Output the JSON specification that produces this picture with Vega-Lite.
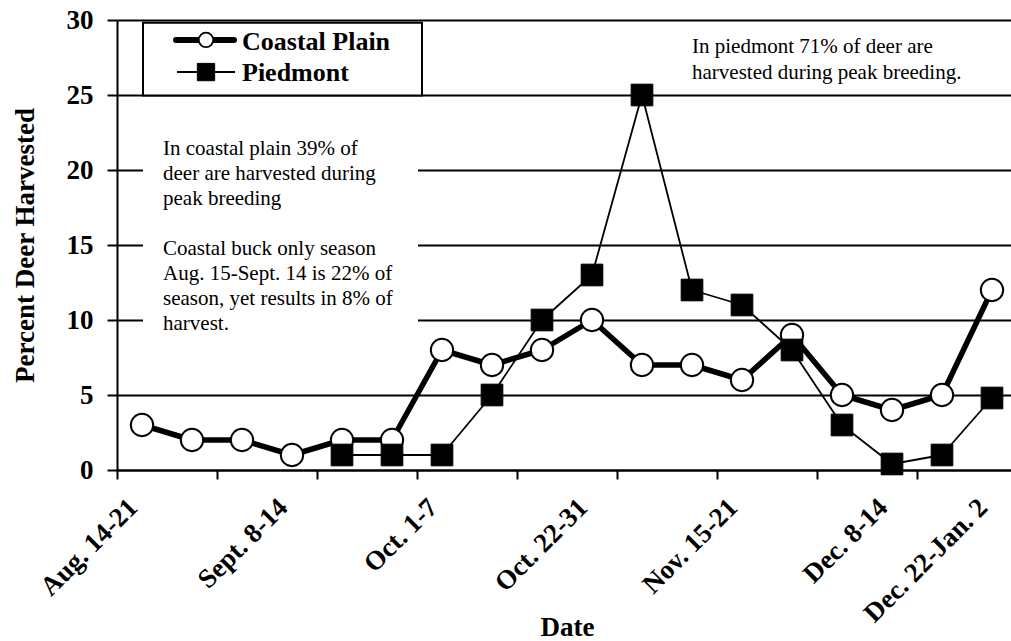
{
  "$schema": "https://vega.github.io/schema/vega-lite/v6.json",
  "width": 894,
  "height": 450,
  "autosize": {"type": "none"},
  "padding": {"left": 117, "top": 20, "right": 0, "bottom": 171},
  "background": "white",
  "config": {
    "view": {"stroke": null},
    "font": "Liberation Serif",
    "text": {"font": "Liberation Serif", "color": "black"}
  },
  "resolve": {"scale": {"x": "independent"}},
  "layer": [
    {
      "data": {
        "values": [
          {"week": "Aug. 14-21", "series": "Coastal Plain", "pct": 3},
          {"week": "Aug. 22-31", "series": "Coastal Plain", "pct": 2},
          {"week": "Sept. 1-7", "series": "Coastal Plain", "pct": 2},
          {"week": "Sept. 8-14", "series": "Coastal Plain", "pct": 1},
          {"week": "Sept. 15-21", "series": "Coastal Plain", "pct": 2},
          {"week": "Sept. 22-30", "series": "Coastal Plain", "pct": 2},
          {"week": "Oct. 1-7", "series": "Coastal Plain", "pct": 8},
          {"week": "Oct. 8-14", "series": "Coastal Plain", "pct": 7},
          {"week": "Oct. 15-21", "series": "Coastal Plain", "pct": 8},
          {"week": "Oct. 22-31", "series": "Coastal Plain", "pct": 10},
          {"week": "Nov. 1-7", "series": "Coastal Plain", "pct": 7},
          {"week": "Nov. 8-14", "series": "Coastal Plain", "pct": 7},
          {"week": "Nov. 15-21", "series": "Coastal Plain", "pct": 6},
          {"week": "Nov. 22-30", "series": "Coastal Plain", "pct": 9},
          {"week": "Dec. 1-7", "series": "Coastal Plain", "pct": 5},
          {"week": "Dec. 8-14", "series": "Coastal Plain", "pct": 4},
          {"week": "Dec. 15-21", "series": "Coastal Plain", "pct": 5},
          {"week": "Dec. 22-Jan. 2", "series": "Coastal Plain", "pct": 12},
          {"week": "Sept. 15-21", "series": "Piedmont", "pct": 1},
          {"week": "Sept. 22-30", "series": "Piedmont", "pct": 1},
          {"week": "Oct. 1-7", "series": "Piedmont", "pct": 1},
          {"week": "Oct. 8-14", "series": "Piedmont", "pct": 5},
          {"week": "Oct. 15-21", "series": "Piedmont", "pct": 10},
          {"week": "Oct. 22-31", "series": "Piedmont", "pct": 13},
          {"week": "Nov. 1-7", "series": "Piedmont", "pct": 25},
          {"week": "Nov. 8-14", "series": "Piedmont", "pct": 12},
          {"week": "Nov. 15-21", "series": "Piedmont", "pct": 11},
          {"week": "Nov. 22-30", "series": "Piedmont", "pct": 8},
          {"week": "Dec. 1-7", "series": "Piedmont", "pct": 3},
          {"week": "Dec. 8-14", "series": "Piedmont", "pct": 0.4},
          {"week": "Dec. 15-21", "series": "Piedmont", "pct": 1},
          {"week": "Dec. 22-Jan. 2", "series": "Piedmont", "pct": 4.8}
        ]
      },
      "encoding": {
        "x": {
          "field": "week",
          "type": "nominal",
          "sort": null,
          "scale": {
            "type": "band",
            "domain": ["Aug. 14-21", "Aug. 22-31", "Sept. 1-7", "Sept. 8-14", "Sept. 15-21", "Sept. 22-30", "Oct. 1-7", "Oct. 8-14", "Oct. 15-21", "Oct. 22-31", "Nov. 1-7", "Nov. 8-14", "Nov. 15-21", "Nov. 22-30", "Dec. 1-7", "Dec. 8-14", "Dec. 15-21", "Dec. 22-Jan. 2"],
            "range": [0, 900],
            "paddingInner": 0,
            "paddingOuter": 0
          },
          "axis": {
            "title": "Date",
            "titleFont": "Liberation Serif",
            "titleFontSize": 27,
            "titleFontWeight": "bold",
            "titleColor": "black",
            "titleY": 165,
            "titleBaseline": "alphabetic",
            "labelAngle": -45,
            "labelAlign": "right",
            "labelBaseline": "middle",
            "labelFont": "Liberation Serif",
            "labelFontSize": 27,
            "labelFontWeight": "bold",
            "labelColor": "black",
            "labelPadding": 24,
            "labelOffset": -9,
            "labelOverlap": false,
            "labelExpr": "indexof(['Aug. 14-21','Sept. 8-14','Oct. 1-7','Oct. 22-31','Nov. 15-21','Dec. 8-14','Dec. 22-Jan. 2'], datum.value) >= 0 ? datum.label : ''",
            "tickBand": "extent",
            "tickSize": 9,
            "tickWidth": 2,
            "tickColor": "black",
            "tickOpacity": {
              "condition": {
                "test": "datum.extra || indexof(['Aug. 22-31','Sept. 8-14','Sept. 22-30','Oct. 8-14','Oct. 22-31','Nov. 8-14','Nov. 22-30','Dec. 8-14','Dec. 22-Jan. 2'], datum.value) >= 0",
                "value": 1
              },
              "value": 0
            },
            "domainColor": "black",
            "domainWidth": 2,
            "grid": false
          }
        },
        "y": {
          "field": "pct",
          "type": "quantitative",
          "scale": {"domain": [0, 30], "nice": false, "zero": true},
          "axis": {
            "title": "Percent Deer Harvested",
            "titleFont": "Liberation Serif",
            "titleFontSize": 27,
            "titleFontWeight": "bold",
            "titleColor": "black",
            "titleX": -84,
            "titleY": 225,
            "titleBaseline": "alphabetic",
            "values": [0, 5, 10, 15, 20, 25, 30],
            "labelFont": "Liberation Serif",
            "labelFontSize": 27,
            "labelFontWeight": "bold",
            "labelColor": "black",
            "labelPadding": 14,
            "tickSize": 10,
            "tickWidth": 2,
            "tickColor": "black",
            "domainColor": "black",
            "domainWidth": 2,
            "grid": true,
            "gridColor": "black",
            "gridWidth": 2,
            "gridOpacity": 1
          }
        }
      },
      "layer": [
        {
          "transform": [{"filter": "datum.series === 'Coastal Plain'"}],
          "mark": {"type": "line", "color": "black", "strokeWidth": 5.5, "strokeJoin": "round", "strokeCap": "round"}
        },
        {
          "transform": [{"filter": "datum.series === 'Piedmont'"}],
          "mark": {"type": "line", "color": "black", "strokeWidth": 1.8, "strokeJoin": "round"}
        },
        {
          "transform": [{"filter": "datum.series === 'Coastal Plain'"}],
          "mark": {"type": "point", "shape": "circle", "filled": true, "fill": "white", "stroke": "black", "strokeWidth": 2, "size": 500, "opacity": 1}
        },
        {
          "transform": [{"filter": "datum.series === 'Piedmont'"}],
          "mark": {"type": "point", "shape": "square", "filled": true, "fill": "black", "stroke": "black", "strokeWidth": 1, "size": 470, "opacity": 1}
        }
      ]
    },
    {
      "data": {"values": [{}]},
      "mark": {"type": "rect", "fill": "white", "stroke": null},
      "encoding": {
        "x": {"datum": 0.52, "type": "quantitative", "scale": {"domain": [0, 18], "range": [0, 900]}, "axis": null},
        "x2": {"datum": 6.02},
        "y": {"datum": 22.3, "type": "quantitative"},
        "y2": {"datum": 8.7}
      }
    },
    {
      "data": {"values": [{}]},
      "mark": {
        "type": "text",
        "align": "left",
        "baseline": "alphabetic",
        "font": "Liberation Serif",
        "fontSize": 21,
        "lineHeight": 25,
        "color": "black",
        "text": ["In coastal plain 39% of", "deer are harvested during", "peak breeding"]
      },
      "encoding": {
        "x": {"datum": 0.92, "type": "quantitative", "scale": {"domain": [0, 18], "range": [0, 900]}, "axis": null},
        "y": {"datum": 21.0, "type": "quantitative"}
      }
    },
    {
      "data": {"values": [{}]},
      "mark": {
        "type": "text",
        "align": "left",
        "baseline": "alphabetic",
        "font": "Liberation Serif",
        "fontSize": 21,
        "lineHeight": 25,
        "color": "black",
        "text": ["Coastal buck only season", "Aug. 15-Sept. 14 is 22% of", "season, yet results in 8% of", "harvest."]
      },
      "encoding": {
        "x": {"datum": 0.92, "type": "quantitative", "scale": {"domain": [0, 18], "range": [0, 900]}, "axis": null},
        "y": {"datum": 14.33, "type": "quantitative"}
      }
    },
    {
      "data": {"values": [{}]},
      "mark": {
        "type": "text",
        "align": "left",
        "baseline": "alphabetic",
        "font": "Liberation Serif",
        "fontSize": 21,
        "lineHeight": 26,
        "color": "black",
        "text": ["In piedmont 71% of deer are", "harvested during peak breeding."]
      },
      "encoding": {
        "x": {"datum": 11.5, "type": "quantitative", "scale": {"domain": [0, 18], "range": [0, 900]}, "axis": null},
        "y": {"datum": 27.8, "type": "quantitative"}
      }
    },
    {
      "data": {"values": [{}]},
      "mark": {"type": "rect", "fill": "white", "stroke": "black", "strokeWidth": 2},
      "encoding": {
        "x": {"datum": 0.52, "type": "quantitative", "scale": {"domain": [0, 18], "range": [0, 900]}, "axis": null},
        "x2": {"datum": 6.1},
        "y": {"datum": 29.82, "type": "quantitative"},
        "y2": {"datum": 24.97}
      }
    },
    {
      "data": {"values": [{}]},
      "mark": {"type": "rule", "color": "black", "strokeWidth": 6, "strokeCap": "round"},
      "encoding": {
        "x": {"datum": 1.18, "type": "quantitative", "scale": {"domain": [0, 18], "range": [0, 900]}, "axis": null},
        "x2": {"datum": 2.34},
        "y": {"datum": 28.67, "type": "quantitative"}
      }
    },
    {
      "data": {"values": [{}]},
      "mark": {"type": "rule", "color": "black", "strokeWidth": 2},
      "encoding": {
        "x": {"datum": 1.2, "type": "quantitative", "scale": {"domain": [0, 18], "range": [0, 900]}, "axis": null},
        "x2": {"datum": 2.36},
        "y": {"datum": 26.53, "type": "quantitative"}
      }
    },
    {
      "data": {"values": [{}]},
      "mark": {"type": "point", "shape": "circle", "filled": true, "fill": "white", "stroke": "black", "strokeWidth": 1.8, "size": 210, "opacity": 1},
      "encoding": {
        "x": {"datum": 1.78, "type": "quantitative", "scale": {"domain": [0, 18], "range": [0, 900]}, "axis": null},
        "y": {"datum": 28.67, "type": "quantitative"}
      }
    },
    {
      "data": {"values": [{}]},
      "mark": {"type": "point", "shape": "square", "filled": true, "fill": "black", "stroke": "black", "strokeWidth": 1, "size": 300, "opacity": 1},
      "encoding": {
        "x": {"datum": 1.78, "type": "quantitative", "scale": {"domain": [0, 18], "range": [0, 900]}, "axis": null},
        "y": {"datum": 26.53, "type": "quantitative"}
      }
    },
    {
      "data": {"values": [{}]},
      "mark": {"type": "text", "align": "left", "baseline": "alphabetic", "font": "Liberation Serif", "fontSize": 26, "fontWeight": "bold", "color": "black", "text": "Coastal Plain"},
      "encoding": {
        "x": {"datum": 2.5, "type": "quantitative", "scale": {"domain": [0, 18], "range": [0, 900]}, "axis": null},
        "y": {"datum": 28.0, "type": "quantitative"}
      }
    },
    {
      "data": {"values": [{}]},
      "mark": {"type": "text", "align": "left", "baseline": "alphabetic", "font": "Liberation Serif", "fontSize": 26, "fontWeight": "bold", "color": "black", "text": "Piedmont"},
      "encoding": {
        "x": {"datum": 2.5, "type": "quantitative", "scale": {"domain": [0, 18], "range": [0, 900]}, "axis": null},
        "y": {"datum": 25.93, "type": "quantitative"}
      }
    }
  ]
}
